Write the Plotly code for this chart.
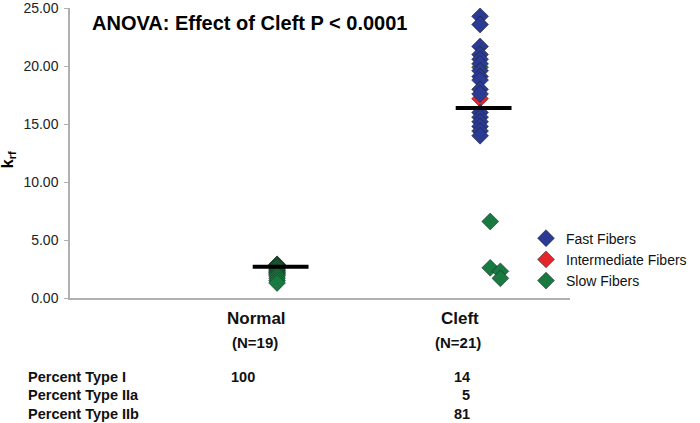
import plotly.graph_objects as go

# group positions: 1 = Normal, 2 = Cleft
groups = ["Normal", "Cleft"]
group_n = ["(N=19)", "(N=21)"]

# k_rf values
normal_slow = [2.9, 2.9, 2.8, 2.8, 2.8, 2.7, 2.7, 2.6, 2.6, 2.5,
               2.4, 2.3, 2.2, 2.1, 2.0, 1.9, 1.7, 1.5, 1.3]
cleft_fast = [24.3, 23.6, 21.7, 21.0, 20.6, 20.2, 19.6, 19.1, 18.8,
              18.0, 17.6, 16.0, 15.6, 15.2, 14.8, 14.4, 14.0]
cleft_inter = [17.2]
cleft_slow = [19.9, 6.6, 2.6, 2.3, 1.7]
cleft_slow_jitter = [0.0, 0.05, 0.05, 0.1, 0.1]

group_means = [2.7, 16.4]

y_ticks = [0, 5, 10, 15, 20, 25]

table_rows = ["Percent Type I", "Percent Type IIa", "Percent Type IIb"]
normal_pct = ["100", "", ""]
cleft_pct = ["14", "5", "81"]

BLUE = "#2b3a93"
RED = "#e3262c"
GREEN = "#187a40"
FONT = "Liberation Sans, Arial, sans-serif"

fig = go.Figure()

def marker(color):
    return dict(symbol="diamond", size=13, color=color,
                line=dict(color="#1c1c1c", width=0.5))

fig.add_trace(go.Scatter(
    x=[1] * len(normal_slow), y=normal_slow, mode="markers",
    marker=marker(GREEN), name="Slow Fibers", legendgroup="slow",
    showlegend=False))
fig.add_trace(go.Scatter(
    x=[2 + j for j in cleft_slow_jitter], y=cleft_slow, mode="markers",
    marker=marker(GREEN), name="Slow Fibers", legendgroup="slow",
    legendrank=3))
fig.add_trace(go.Scatter(
    x=[2] * len(cleft_inter), y=cleft_inter, mode="markers",
    marker=marker(RED), name="Intermediate Fibers", legendrank=2))
fig.add_trace(go.Scatter(
    x=[2] * len(cleft_fast), y=cleft_fast, mode="markers",
    marker=marker(BLUE), name="Fast Fibers", legendrank=1))

# mean bars
for i, m in enumerate(group_means):
    g = i + 1
    fig.add_trace(go.Scatter(
        x=[g - 0.12, g + 0.155], y=[m, m], mode="lines",
        line=dict(color="black", width=4), showlegend=False,
        hoverinfo="skip"))

annotations = [
    dict(text="<b>ANOVA: Effect of Cleft P < 0.0001</b>", x=0.04, y=0.95,
         xref="paper", yref="paper", xanchor="left", yanchor="middle",
         showarrow=False, font=dict(size=20, color="black")),
    dict(text="<b>k<sub>rf</sub></b>", x=-0.124, y=0.475, xref="paper",
         yref="paper", xanchor="center", yanchor="middle", textangle=-90,
         showarrow=False, font=dict(size=16, color="black")),
]
for i, (g, n) in enumerate(zip(groups, group_n)):
    annotations.append(dict(text=f"<b>{g}</b>", x=i + 0.9, y=-0.069,
                            xref="x", yref="paper", showarrow=False,
                            xanchor="center", yanchor="middle",
                            font=dict(size=17, color="#111")))
    annotations.append(dict(text=f"<b>{n}</b>", x=i + 0.89, y=-0.155,
                            xref="x", yref="paper", showarrow=False,
                            xanchor="center", yanchor="middle",
                            font=dict(size=15, color="#111")))
for k, (row, a, b) in enumerate(zip(table_rows, normal_pct, cleft_pct)):
    yy = -0.272 - k * 0.0638
    annotations.append(dict(text=f"<b>{row}</b>", x=-0.088, y=yy,
                            xref="paper", yref="paper", xanchor="left",
                            yanchor="middle", showarrow=False,
                            font=dict(size=14.5, color="#111")))
    if a:
        annotations.append(dict(text=f"<b>{a}</b>", x=0.83, y=yy,
                                xref="x", yref="paper", showarrow=False,
                                xanchor="center", yanchor="middle",
                                font=dict(size=14.5, color="#111")))
    annotations.append(dict(text=f"<b>{b}</b>", x=1.96, y=yy,
                            xref="x", yref="paper", xanchor="right",
                            yanchor="middle", showarrow=False,
                            font=dict(size=14.5, color="#111")))

fig.update_layout(
    width=700, height=423,
    margin=dict(l=70, r=130, t=8, b=125, autoexpand=False),
    paper_bgcolor="white", plot_bgcolor="white",
    font=dict(family=FONT, color="#222"),
    xaxis=dict(range=[-0.02, 2.443], showgrid=False, zeroline=False,
               showline=True, linecolor="#b0b0b0", linewidth=1.5,
               showticklabels=False, ticks="", automargin=False),
    yaxis=dict(range=[0, 25.02], tickmode="array", tickvals=y_ticks,
               tickformat=".2f", showgrid=False,
               zeroline=False, showline=True, linecolor="#b0b0b0",
               linewidth=1.5, ticks="outside", ticklen=4,
               tickcolor="#b0b0b0", tickfont=dict(size=14, color="#222"),
               ticklabelstandoff=3, automargin=False),
    legend=dict(x=0.912, y=0.26, xanchor="left", yanchor="top",
                font=dict(size=14, color="#111"), bgcolor="rgba(0,0,0,0)",
                itemwidth=30, tracegroupgap=0),
    annotations=annotations,
)

fig.write_html("out.html", config={"displayModeBar": False},
               post_script="document.body.style.margin='0';")
